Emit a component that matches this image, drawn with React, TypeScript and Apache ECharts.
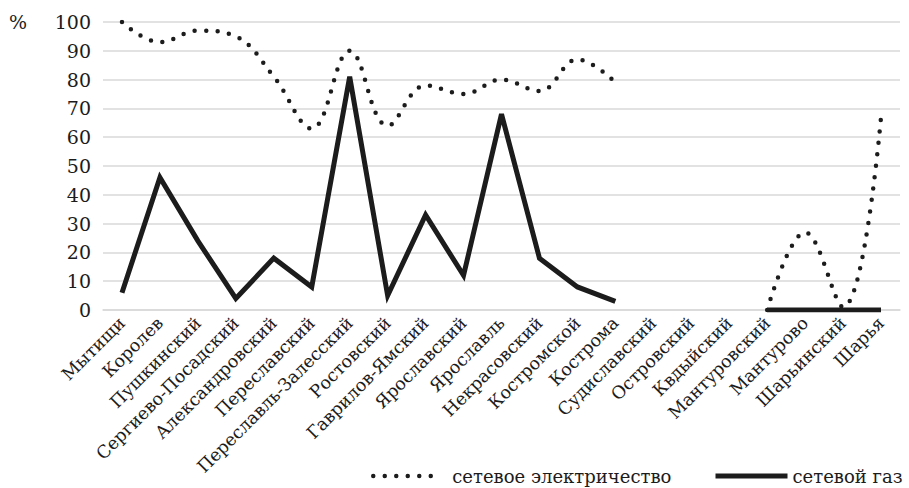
import React, { useEffect, useRef } from "react";
import * as echarts from "echarts";

const categories = [
  "Мытищи", "Королев", "Пушкинский", "Сергиево-Посадский", "Александровский",
  "Переславский", "Переславль-Залесский", "Ростовский", "Гаврилов-Ямский",
  "Ярославский", "Ярославль", "Некрасовский", "Костромской", "Кострома",
  "Судиславский", "Островский", "Квдыйский", "Мантуровский", "Мантурово",
  "Шарьинский", "Шарья",
];
const electricity: (number | null)[] = [
  100, 93, 97, 95, 81, 63, 90, 64, 78, 75, 80, 76, 87, 79,
  null, null, null, 0, 27, 1, 67,
];
const gas: (number | null)[] = [
  6, 46, 24, 4, 18, 8, 81, 5, 33, 12, 68, 18, 8, 3,
  null, null, null, 0, 0, 0, 0,
];
const seriesNames = ["сетевое электричество", "сетевой газ"];
const unitLabel = "%";

const FONT = "DejaVu Serif";
const INK = "#1c1c1c";

export default function App() {
  const ref = useRef<HTMLDivElement>(null);
  useEffect(() => {
    if (!ref.current) return;
    const chart = echarts.init(ref.current, undefined, { renderer: "svg" });
    const dotted = [0, 11.5];
    chart.setOption({
      animation: false,
      backgroundColor: "#ffffff",
      textStyle: { fontFamily: FONT },
      grid: {
        left: 103,
        right: 9,
        top: 22,
        bottom: 178,
        containLabel: false,
        outerBoundsMode: "none",
      },
      graphic: [
        {
          type: "text",
          left: 9,
          top: 12,
          style: { text: unitLabel, font: "19px 'DejaVu Serif'", fill: INK },
        },
      ],
      legend: [
        {
          left: 366,
          top: 462,
          itemWidth: 64,
          itemHeight: 10,
          data: [{ name: seriesNames[0] }],
          itemStyle: { opacity: 0 },
          lineStyle: { width: 4.5, type: dotted, cap: "round", color: INK },
          textStyle: { fontFamily: FONT, fontSize: 18, color: INK, padding: [0, 0, 0, 10] },
          selectedMode: false,
        },
        {
          left: 708,
          top: 462,
          itemWidth: 72,
          itemHeight: 10,
          data: [{ name: seriesNames[1] }],
          itemStyle: { opacity: 0 },
          lineStyle: { width: 5, color: INK },
          textStyle: { fontFamily: FONT, fontSize: 18, color: INK },
          selectedMode: false,
        },
      ],
      xAxis: {
        type: "category",
        data: categories,
        boundaryGap: true,
        axisLine: { show: true, lineStyle: { color: "#d9d9d9", width: 1.5 } },
        axisTick: { show: false },
        axisLabel: {
          interval: 0,
          rotate: 45,
          margin: 10,
          fontFamily: FONT,
          fontSize: 17.5,
          color: INK,
        },
      },
      yAxis: {
        type: "value",
        min: 0,
        max: 100,
        interval: 10,
        axisLine: { show: false },
        axisTick: { show: false },
        splitLine: { lineStyle: { color: "#d9d9d9", width: 1.5 } },
        axisLabel: { fontFamily: FONT, fontSize: 19, color: INK, margin: 12 },
      },
      series: [
        {
          name: seriesNames[0],
          type: "line",
          data: electricity,
          smooth: 0.4,
          symbol: "none",
          connectNulls: false,
          lineStyle: { width: 4.5, type: dotted, cap: "round", color: INK },
          itemStyle: { color: INK },
          z: 3,
        },
        {
          name: seriesNames[1],
          type: "line",
          data: gas,
          symbol: "none",
          connectNulls: false,
          lineStyle: { width: 5, color: INK, join: "miter", cap: "butt" },
          itemStyle: { color: INK },
          z: 2,
        },
      ],
    });
    return () => chart.dispose();
  }, []);
  return <div ref={ref} style={{ width: 909, height: 488, position: "absolute", left: 0, top: 0 }} />;
}
